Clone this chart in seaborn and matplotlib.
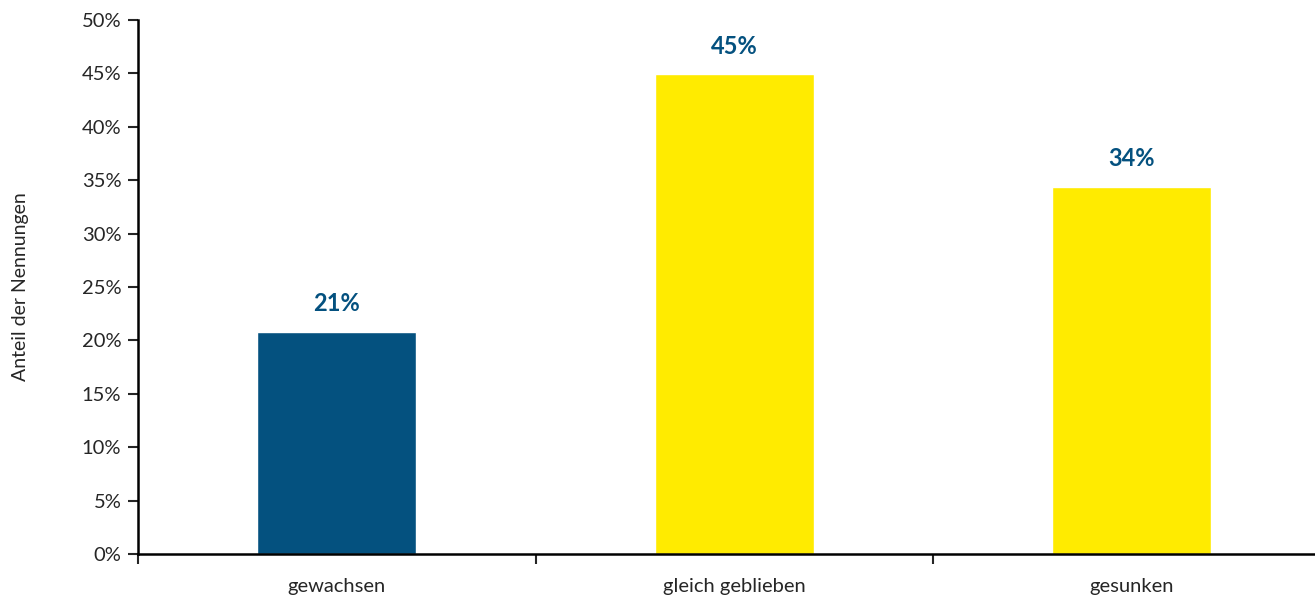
import seaborn as sns
import matplotlib.pyplot as plt
import matplotlib.ticker as mticker
import pandas as pd

categories = ["gewachsen", "gleich geblieben", "gesunken"]
values = [20.8, 44.9, 34.4]
labels = ["21%", "45%", "34%"]
bar_colors = ["#04517F", "#FFEB00", "#FFEB00"]

df = pd.DataFrame({"cat": categories, "val": values})

sns.set_style("white")
plt.rcParams['font.family'] = ['Lato', 'DejaVu Sans']

fig = plt.figure(figsize=(13.15, 5.99), dpi=100)
ax = fig.add_axes([138 / 1315, 45 / 599, 1192.5 / 1315, 534 / 599])

sns.barplot(data=df, x="cat", y="val", hue="cat", palette=bar_colors,
            width=0.4, legend=False, ax=ax, saturation=1)

# value labels above the bars
for i, (v, lab) in enumerate(zip(values, labels)):
    ax.annotate(lab, (i, v), xytext=(0, 12), textcoords="offset points",
                ha="center", va="bottom", fontsize=17, fontweight="bold",
                color="#04517F")

ax.set_ylim(0, 50)
ax.set_xlim(-0.5, 2.5)
ax.yaxis.set_major_locator(mticker.MultipleLocator(5))
ax.yaxis.set_major_formatter(mticker.FuncFormatter(lambda y, p: f"{y:.0f}%"))

# ticks at category boundaries, labels in the middle
ax.set_xticks([-0.5, 0.5, 1.5, 2.5])
ax.set_xticklabels([])
ax.set_xticks([0, 1, 2], minor=True)
ax.set_xticklabels(categories, minor=True)
ax.tick_params(axis="x", which="minor", bottom=True, length=0, pad=17, labelsize=14.5)
ax.tick_params(axis="x", which="major", bottom=True, direction="out", length=7, width=1.5)
ax.tick_params(axis="y", left=True, direction="out", length=7, width=1.5, labelsize=14.5, pad=5)

ax.set_xlabel("")
ax.set_ylabel("Anteil der Nennungen", fontsize=14, labelpad=38)

for s in ["top", "right"]:
    ax.spines[s].set_visible(False)
for s in ["left", "bottom"]:
    ax.spines[s].set_linewidth(1.8)
    ax.spines[s].set_color("black")

fig.savefig("out.png", dpi=100)
